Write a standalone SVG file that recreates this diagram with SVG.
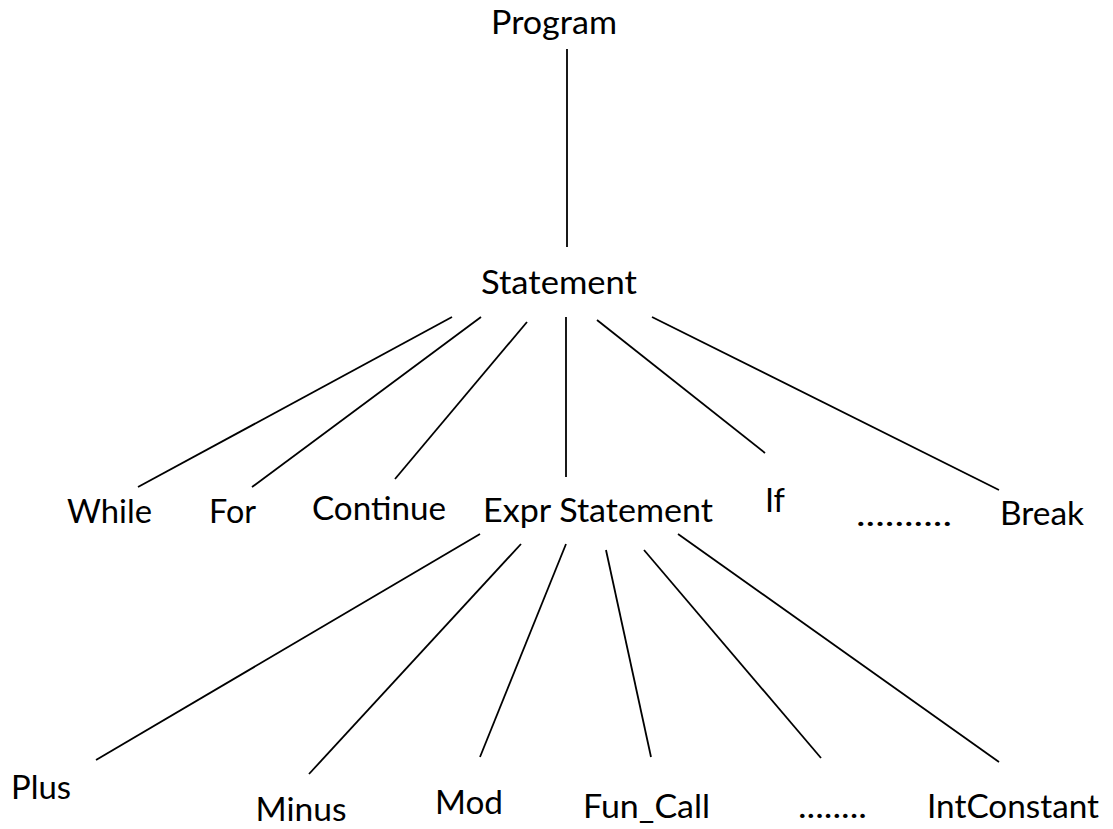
<svg xmlns="http://www.w3.org/2000/svg" width="1113" height="829" viewBox="0 0 1113 829">
<style>
.lbl{font-family:Lato,"Open Sans","Liberation Sans",sans-serif;font-size:32px;fill:#000}
.edge{stroke:#000;stroke-width:1.8;fill:none;stroke-linecap:butt}
</style>
<rect width="1113" height="829" fill="#fff"/>
<g id="connectors">
<line class="edge" x1="567" y1="49" x2="567" y2="247"/>
<line class="edge" x1="452" y1="317" x2="138" y2="487"/>
<line class="edge" x1="481" y1="317" x2="252" y2="487"/>
<line class="edge" x1="527" y1="322" x2="395" y2="479"/>
<line class="edge" x1="566" y1="317" x2="566" y2="477"/>
<line class="edge" x1="597" y1="320" x2="765" y2="453"/>
<line class="edge" x1="652" y1="317" x2="999" y2="490"/>
<line class="edge" x1="480" y1="534" x2="96" y2="760"/>
<line class="edge" x1="521" y1="544" x2="309" y2="774"/>
<line class="edge" x1="566" y1="544" x2="480" y2="757"/>
<line class="edge" x1="606" y1="550" x2="651" y2="757"/>
<line class="edge" x1="644" y1="550" x2="821" y2="758"/>
<line class="edge" x1="678" y1="534" x2="999" y2="762"/>
</g>
<g id="program"><text class="lbl" x="491" y="33.5" textLength="126" lengthAdjust="spacingAndGlyphs">Program</text></g>
<g id="statement"><text class="lbl" x="481" y="293.5" textLength="156" lengthAdjust="spacingAndGlyphs">Statement</text></g>
<g id="while"><text class="lbl" x="67" y="523" textLength="85" lengthAdjust="spacingAndGlyphs">While</text></g>
<g id="for"><text class="lbl" x="209" y="523" textLength="47" lengthAdjust="spacingAndGlyphs">For</text></g>
<g id="continue"><text class="lbl" x="312" y="520" textLength="134" lengthAdjust="spacingAndGlyphs">Continue</text></g>
<g id="expr-statement"><text class="lbl" x="483" y="521.5" textLength="230" lengthAdjust="spacingAndGlyphs">Expr Statement</text></g>
<g id="if"><text class="lbl" x="765" y="512" textLength="20" lengthAdjust="spacingAndGlyphs">If</text></g>
<g id="dots1"><text class="lbl" x="856" y="526" textLength="96" lengthAdjust="spacingAndGlyphs">..........</text></g>
<g id="break"><text class="lbl" x="1000" y="525" textLength="84" lengthAdjust="spacingAndGlyphs">Break</text></g>
<g id="plus"><text class="lbl" x="11" y="799" textLength="60" lengthAdjust="spacingAndGlyphs">Plus</text></g>
<g id="minus"><text class="lbl" x="255.5" y="821" textLength="91" lengthAdjust="spacingAndGlyphs">Minus</text></g>
<g id="mod"><text class="lbl" x="435" y="814" textLength="68" lengthAdjust="spacingAndGlyphs">Mod</text></g>
<g id="fun-call"><text class="lbl" x="583" y="818" textLength="127" lengthAdjust="spacingAndGlyphs">Fun_Call</text></g>
<g id="dots2"><text class="lbl" x="798" y="818" textLength="69" lengthAdjust="spacingAndGlyphs">........</text></g>
<g id="intconstant"><text class="lbl" x="927" y="818" textLength="172" lengthAdjust="spacingAndGlyphs">IntConstant</text></g>
</svg>
